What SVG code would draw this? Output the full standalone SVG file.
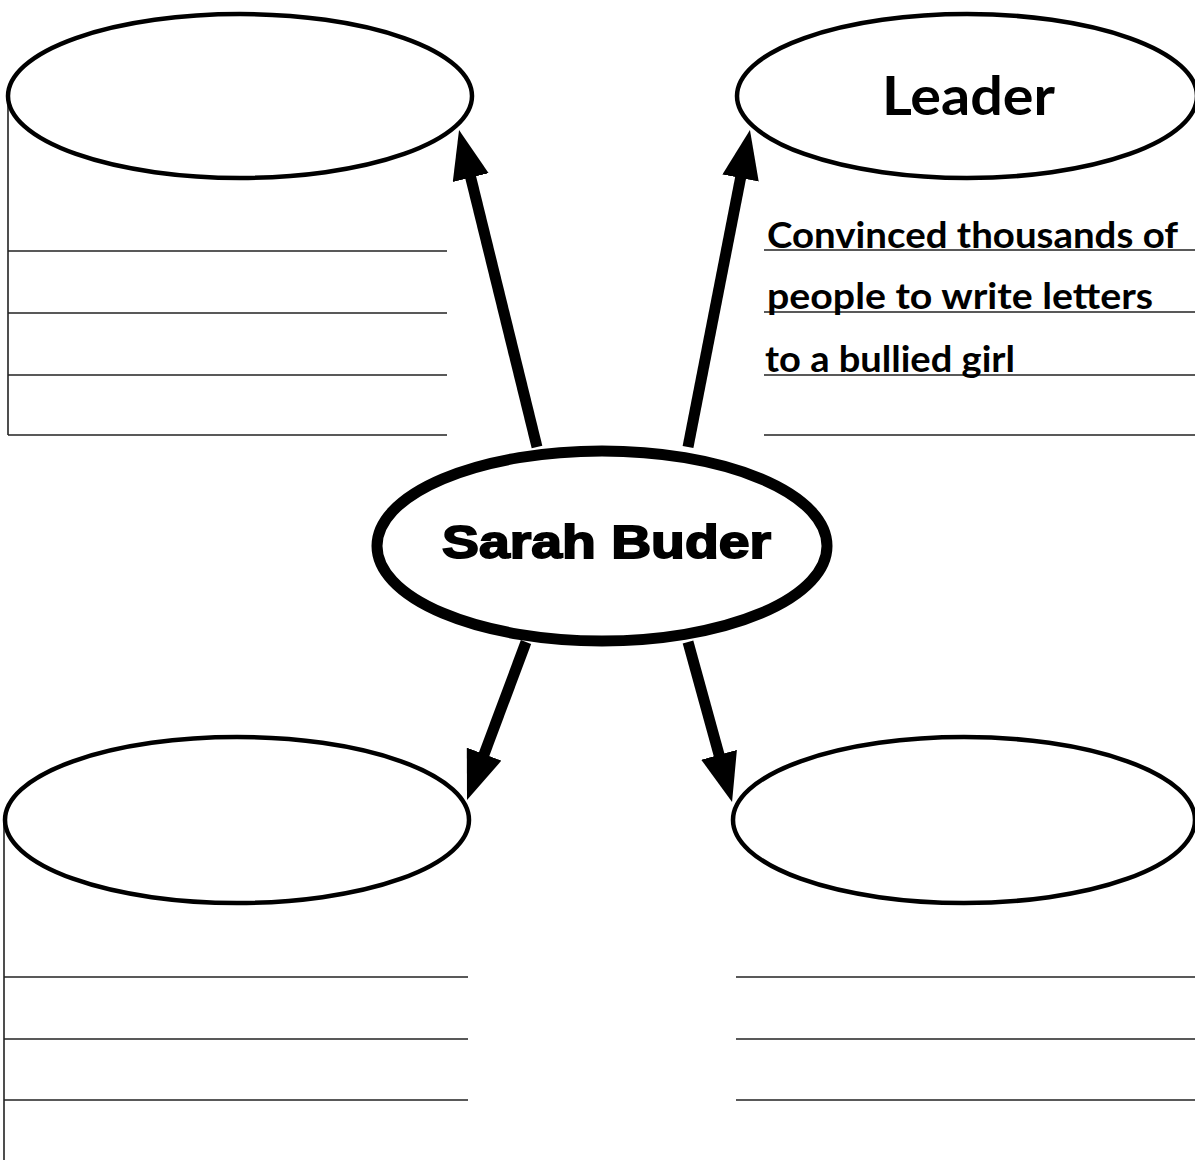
<svg xmlns="http://www.w3.org/2000/svg" width="1195" height="1160" viewBox="0 0 1195 1160">
<style>
.bg{fill:#fff}
.oval{fill:#fff;stroke:#000;stroke-width:4.5}
.center{fill:#fff;stroke:#000;stroke-width:11}
.rule{stroke:#222;stroke-width:1.6;fill:none}
.arrow{stroke:#000;stroke-width:11;fill:none;marker-end:url(#head)}
.hand{font-family:Lato,"Open Sans","DejaVu Sans",sans-serif;font-weight:bold;fill:#000}
.title{font-family:"Liberation Sans",Arial,sans-serif;font-weight:bold;fill:#000;stroke:#000;stroke-width:1.8}
</style>
<defs>
<marker id="head" viewBox="0 0 49 37" refX="19" refY="18.5" markerWidth="49" markerHeight="37" markerUnits="userSpaceOnUse" orient="auto">
<path d="M0,0 L49,18.5 L0,37 z" fill="#000"/>
</marker>
</defs>
<rect class="bg" x="0" y="0" width="1195" height="1160"/>
<g id="connectors">
<line class="arrow" x1="537" y1="447" x2="466.2" y2="159.1"/>
<line class="arrow" x1="688" y1="447" x2="744.2" y2="159.4"/>
<line class="arrow" x1="526" y1="642" x2="477.5" y2="771.9"/>
<line class="arrow" x1="688" y1="642" x2="724.1" y2="773.1"/>
</g>
<g id="node-top-left">
<line class="rule" x1="8" y1="103" x2="8" y2="435"/>
<line class="rule" x1="8" y1="251" x2="447" y2="251"/>
<line class="rule" x1="8" y1="313" x2="447" y2="313"/>
<line class="rule" x1="8" y1="375" x2="447" y2="375"/>
<line class="rule" x1="8" y1="435" x2="447" y2="435"/>
<ellipse class="oval" cx="240" cy="96" rx="232" ry="82"/>
</g>
<g id="node-top-right">
<line class="rule" x1="764" y1="250" x2="1195" y2="250"/>
<line class="rule" x1="764" y1="312" x2="1195" y2="312"/>
<line class="rule" x1="764" y1="375" x2="1195" y2="375"/>
<line class="rule" x1="764" y1="435" x2="1195" y2="435"/>
<ellipse class="oval" cx="967" cy="96" rx="230" ry="82"/>
<text class="hand" x="882" y="115" font-size="53" textLength="173" lengthAdjust="spacingAndGlyphs">Leader</text>
<text class="hand" x="767" y="248" font-size="36" textLength="411" lengthAdjust="spacingAndGlyphs">Convinced thousands of</text>
<text class="hand" x="767" y="309" font-size="36" textLength="386" lengthAdjust="spacingAndGlyphs">people to write letters</text>
<text class="hand" x="765" y="372" font-size="36" textLength="250" lengthAdjust="spacingAndGlyphs">to a bullied girl</text>
</g>
<g id="node-center">
<ellipse class="center" cx="602" cy="546" rx="225" ry="95"/>
<text class="title" x="442" y="558" font-size="46" textLength="329" lengthAdjust="spacingAndGlyphs">Sarah Buder</text>
</g>
<g id="node-bottom-left">
<line class="rule" x1="4" y1="823" x2="4" y2="1160"/>
<line class="rule" x1="4" y1="977" x2="468" y2="977"/>
<line class="rule" x1="4" y1="1039" x2="468" y2="1039"/>
<line class="rule" x1="4" y1="1100" x2="468" y2="1100"/>
<ellipse class="oval" cx="237" cy="820" rx="232" ry="83"/>
</g>
<g id="node-bottom-right">
<line class="rule" x1="736" y1="977" x2="1195" y2="977"/>
<line class="rule" x1="736" y1="1039" x2="1195" y2="1039"/>
<line class="rule" x1="736" y1="1100" x2="1195" y2="1100"/>
<ellipse class="oval" cx="964" cy="820" rx="231" ry="83"/>
</g>
</svg>
